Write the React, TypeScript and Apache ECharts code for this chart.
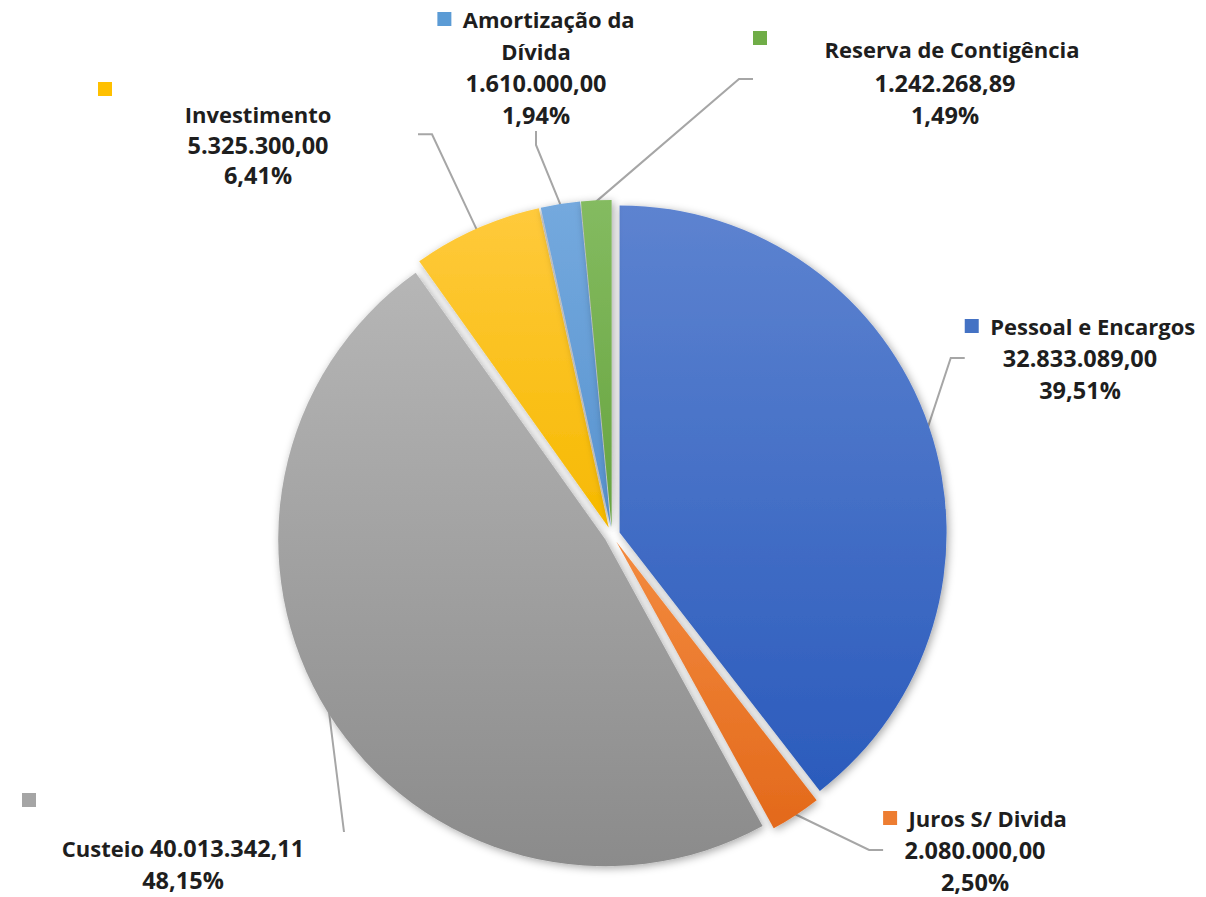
import React, { useEffect, useRef } from 'react';
import * as echarts from 'echarts';

const categories = [
  'Pessoal e Encargos',
  'Juros S/ Divida',
  'Custeio',
  'Investimento',
  'Amortização da Dívida',
  'Reserva de Contigência',
];
const values = [32833089.0, 2080000.0, 40013342.11, 5325300.0, 1610000.0, 1242268.89];

const topColors = ['#5D83D0', '#F38B3F', '#B6B6B6', '#FFCA3C', '#74A9DE', '#84BB60'];
const bottomColors = ['#2B5BBC', '#E3691B', '#8B8B8B', '#F6B900', '#5893CF', '#66A33F'];
const markerColors = ['#4472C4', '#ED7D31', '#A5A5A5', '#FFC000', '#5B9BD5', '#70AD47'];

// label placement: [centerX, topY, blockWidth, lineHeight]
const labelPlace: Array<[number, number, number | null, number]> = [
  [1080, 310, null, 32],
  [975, 802, null, 32],
  [183, 768, 322, 32],
  [258, 79, 320, 30.5],
  [536, 3, null, 32],
  [945, 31, 384, 32],
];

function fmtNumber(v: number) {
  const [i, d] = v.toFixed(2).split('.');
  return i.replace(/\B(?=(\d{3})+(?!\d))/g, '.') + ',' + d;
}

const FONT = 'Open Sans';
const TEXT_COLOR = '#1e1e1e';

export default function App() {
  const ref = useRef<HTMLDivElement>(null);
  useEffect(() => {
    if (!ref.current) return;
    const chart = echarts.init(ref.current, null, { renderer: 'svg' });
    const sliceData = categories.map((name, i) => ({
      name,
      value: values[i],
      selected: true,
      itemStyle: {
        color: new echarts.graphic.LinearGradient(0, 0, 0, 1, [
          { offset: 0, color: topColors[i] },
          { offset: 1, color: bottomColors[i] },
        ]),
      },
    }));
    const labelData = categories.map((name, i) => {
      const item: any = { name, value: values[i] };
      const pl = labelPlace[i];
      item.label = { lineHeight: pl[3] };
      if (pl[2]) item.label.width = pl[2];
      return item;
    });
    const rich: any = {
      t: { fontFamily: FONT, fontWeight: 'bold', fontSize: 22, color: TEXT_COLOR },
      n: { fontFamily: FONT, fontWeight: 'bold', fontSize: 23.5, color: TEXT_COLOR },
    };
    markerColors.forEach((c, i) => {
      rich['m' + i] = { width: 14, height: 14, backgroundColor: c, lineHeight: 32 };
    });
    rich.mc = { width: 14, height: 14, backgroundColor: markerColors[2], lineHeight: 64, align: 'left' };
    rich.mi = { width: 14, height: 14, backgroundColor: markerColors[3], lineHeight: 20, align: 'left' };
    rich.mr = {
      width: 14,
      height: 14,
      backgroundColor: markerColors[5],
      lineHeight: 36,
      align: 'left',
      verticalAlign: 'top',
    };

    chart.setOption({
      animation: false,
      backgroundColor: '#ffffff',
      series: [
        {
          type: 'pie',
          z: 1,
          silent: true,
          center: [612, 535],
          radius: 334,
          startAngle: 90,
          clockwise: true,
          avoidLabelOverlap: false,
          itemStyle: { color: 'rgba(0,0,0,0)' },
          emphasis: { disabled: true },
          label: {
            show: true,
            position: 'outside',
            fontFamily: FONT,
            fontWeight: 'bold',
            fontSize: 22,
            lineHeight: 32,
            color: TEXT_COLOR,
            align: 'center',
            rich,
            formatter: (p: any) => {
              const i = p.dataIndex;
              const val = `{n|${fmtNumber(p.value)}}`;
              const pct = `{n|${p.percent.toFixed(2).replace('.', ',')}%}`;
              if (i === 2) return `{mc|}\n{t|${p.name} }${val}\n${pct}`;
              if (i === 3) return `{mi|}\n{t|${p.name}}\n${val}\n${pct}`;
              if (i === 5) return `{mr|}{t|${p.name}}\n${val}\n${pct}`;
              const parts = p.name.split(' Dívida');
              const name =
                parts.length > 1 ? `{t|${parts[0]}}\n{t|Dívida}` : `{t|${p.name}}`;
              return `{m${i}|}  ${name}\n${val}\n${pct}`;
            },
          },
          labelLine: {
            show: true,
            length: 20,
            length2: 14,
            lineStyle: { color: '#A6A6A6', width: 2 },
          },
          labelLayout: (params: any) => {
            const pl = labelPlace[params.dataIndex];
            return { x: pl[0], y: pl[1], align: 'center', verticalAlign: 'top' };
          },
          data: labelData,
        },
        {
          type: 'pie',
          z: 2,
          center: [612, 535],
          radius: 327,
          startAngle: 90,
          clockwise: true,
          selectedMode: 'multiple',
          selectedOffset: 8,
          itemStyle: {
            shadowBlur: 8,
            shadowColor: 'rgba(0,0,0,0.35)',
            shadowOffsetX: 2,
            shadowOffsetY: 2,
          },
          emphasis: { disabled: true },
          label: { show: false },
          labelLine: { show: false },
          data: sliceData,
        },
      ],
    });
    return () => chart.dispose();
  }, []);
  return (
    <div
      ref={ref}
      style={{ position: 'absolute', left: 0, top: 0, width: 1206, height: 897, background: '#fff' }}
    />
  );
}
